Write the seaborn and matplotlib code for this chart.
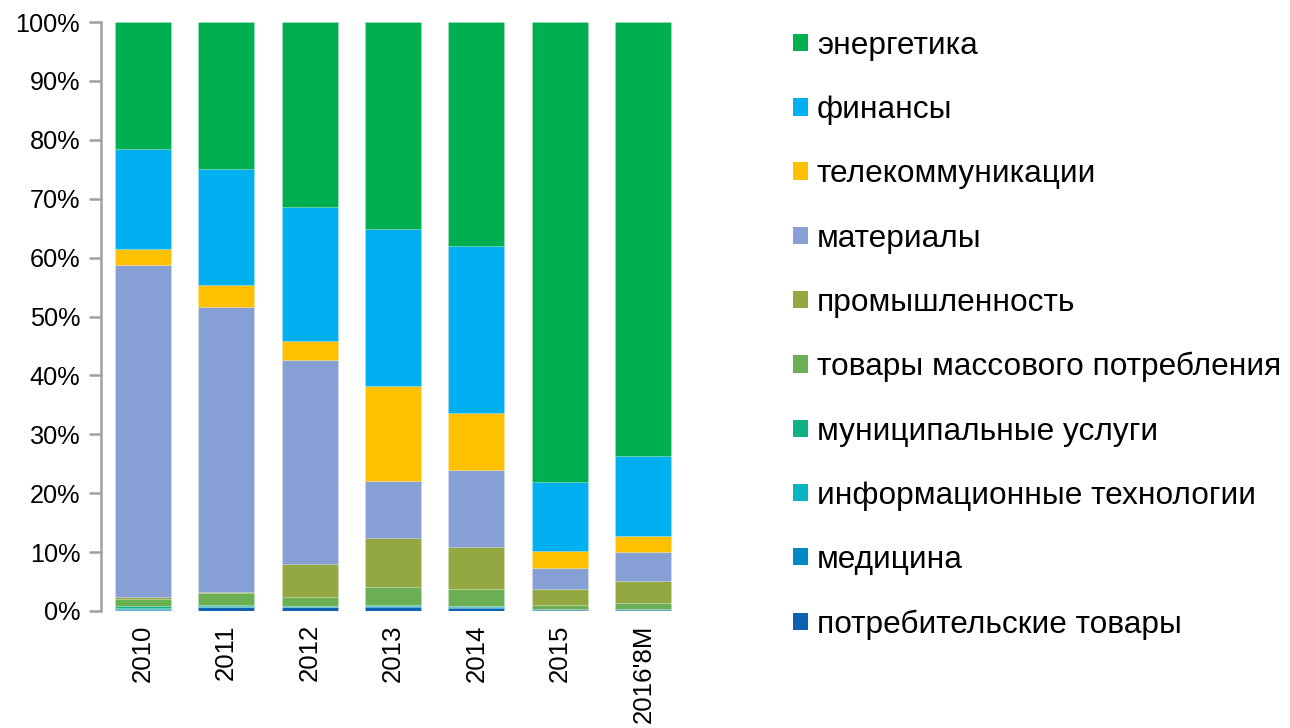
import matplotlib
matplotlib.use("Agg")
import matplotlib.pyplot as plt
import seaborn as sns
import numpy as np
import pandas as pd
from matplotlib.patches import Patch
from matplotlib.ticker import FuncFormatter

years = ["2010", "2011", "2012", "2013", "2014", "2015", "2016'8M"]

# sector shares, % (bottom to top)
potreb   = [0.2, 0.6, 0.6, 0.6, 0.5, 0.2, 0.2]
medicina = [0.2, 0.1, 0.1, 0.3, 0.2, 0.1, 0.1]
it       = [0.1, 0.1, 0.1, 0.1, 0.1, 0.0, 0.0]
municip  = [0.3, 0.3, 0.1, 0.1, 0.1, 0.0, 0.0]
tovary   = [1.3, 1.9, 1.5, 3.0, 2.8, 0.8, 1.1]
prom     = [0.2, 0.3, 5.6, 8.3, 7.2, 2.6, 3.7]
material = [56.5, 48.3, 34.6, 9.7, 13.0, 3.6, 4.9]
telecom  = [2.6, 3.7, 3.2, 16.1, 9.7, 2.9, 2.7]
finance  = [17.1, 19.7, 22.8, 26.7, 28.4, 11.7, 13.6]
energy   = [21.5, 25.0, 31.4, 35.1, 38.0, 78.1, 73.7]

names = ["потребительские товары", "медицина", "информационные технологии",
         "муниципальные услуги", "товары массового потребления",
         "промышленность", "материалы", "телекоммуникации", "финансы", "энергетика"]
series = [potreb, medicina, it, municip, tovary, prom, material, telecom, finance, energy]
colors = ["#1060B0", "#0089C4", "#08B5C3", "#10B184", "#6BAF54",
          "#93A840", "#86A0D6", "#FFC000", "#00B0F0", "#00B050"]

sns.set_style("white")
plt.rcParams["font.family"] = ["Liberation Sans", "DejaVu Sans"]
plt.rcParams["text.color"] = "black"

fig = plt.figure(figsize=(12.9, 7.28), dpi=100)
ax = fig.add_axes([101/1290, 117/728, 584/1290, 589/728])

bottom = np.zeros(len(years))
for name, vals, col in zip(names, series, colors):
    df = pd.DataFrame({"year": years, "value": vals})
    sns.barplot(data=df, x="year", y="value", order=years, color=col,
                bottom=bottom.copy(), width=0.67, ax=ax,
                edgecolor=(1, 1, 1, 0.25), linewidth=0.4, saturation=1)
    bottom += np.array(vals)

ax.set_ylim(0, 100)
ax.set_xlim(-0.5, len(years) - 0.5)
ax.set_yticks(np.arange(0, 101, 10))
ax.yaxis.set_major_formatter(FuncFormatter(lambda v, p: f"{int(round(v))}%"))
ax.set_xlabel("")
ax.set_ylabel("")
for s in ["top", "right", "bottom"]:
    ax.spines[s].set_visible(False)
ax.spines["left"].set_color("#A0A0A0")
ax.spines["left"].set_linewidth(1.8)
ax.tick_params(axis="y", left=True, length=9, width=1.8, color="#A0A0A0",
               labelsize=18.2, pad=6, labelcolor="black")
ax.tick_params(axis="x", bottom=False, labelsize=18.6, pad=6, labelcolor="black")
plt.setp(ax.get_xticklabels(), rotation=90, va="top", ha="center")

handles = [Patch(facecolor=c, edgecolor="none") for c in colors[::-1]]
fig.legend(handles, names[::-1], loc="upper left",
           bbox_to_anchor=(793/1290, 1 - 31/728), frameon=False,
           fontsize=22.8, handlelength=0.47, handleheight=0.47,
           handletextpad=0.28, labelspacing=1.08, borderpad=0, borderaxespad=0,
           labelcolor="black")

fig.savefig("out.png", dpi=100)
